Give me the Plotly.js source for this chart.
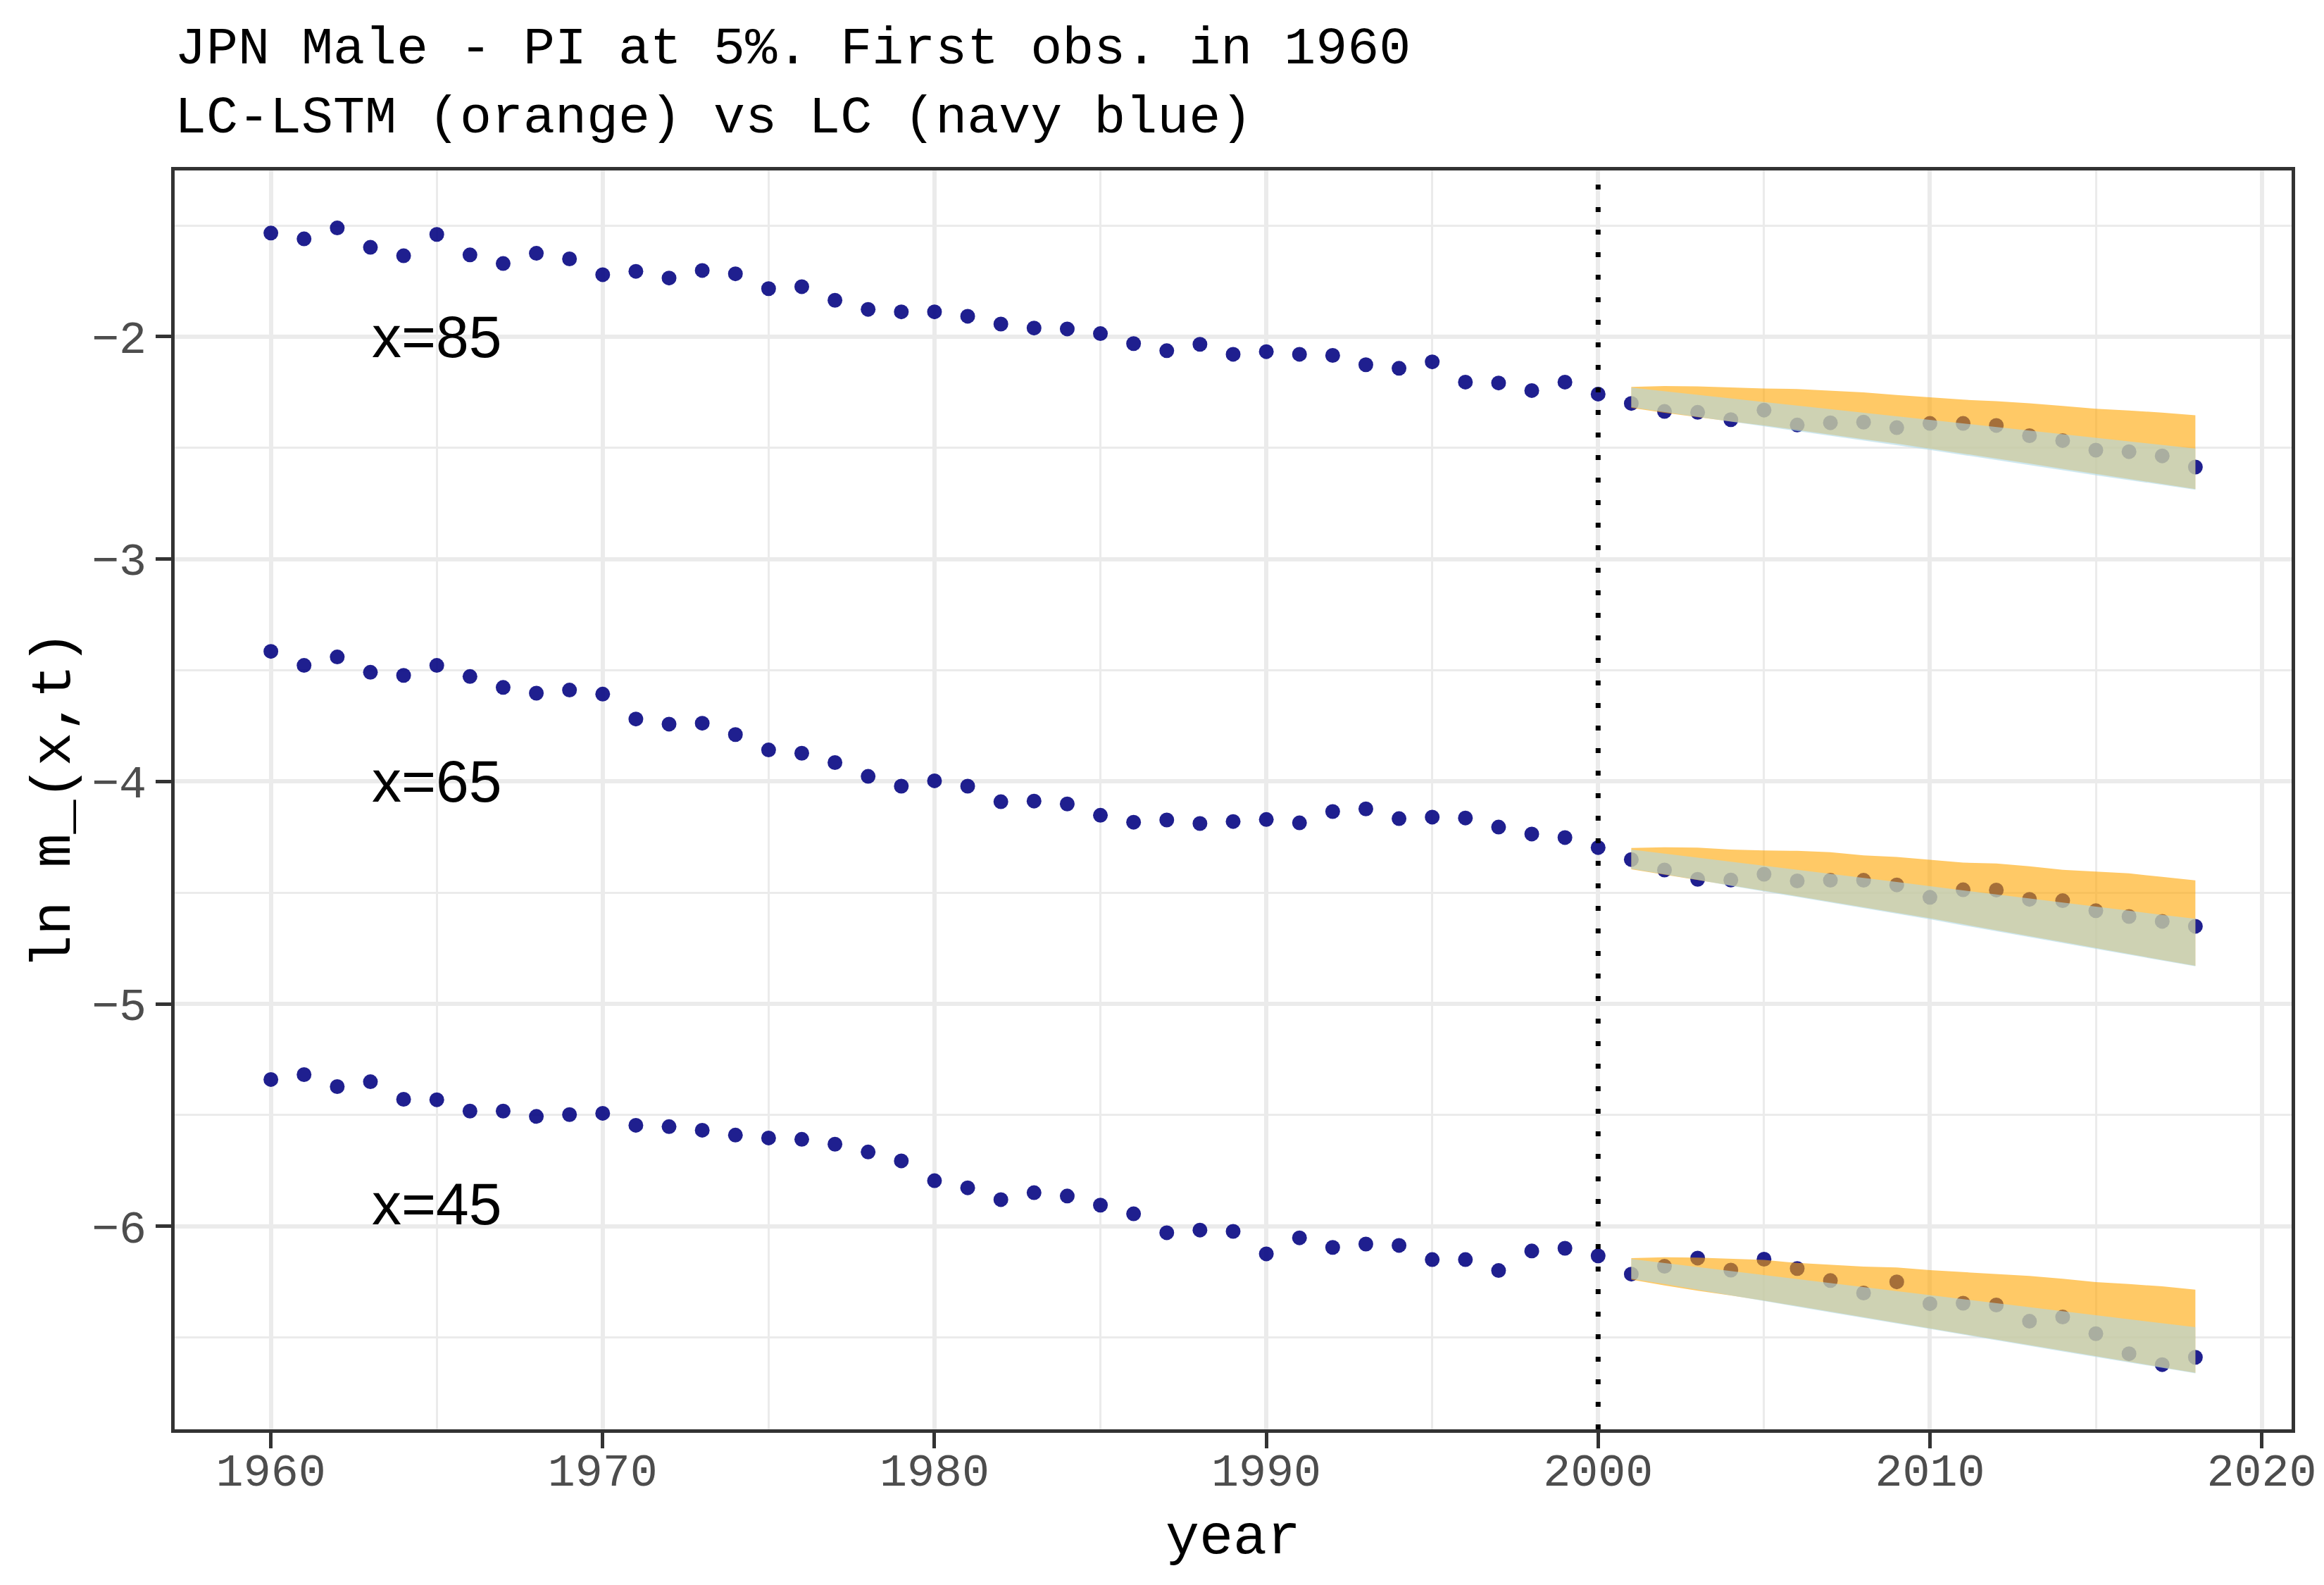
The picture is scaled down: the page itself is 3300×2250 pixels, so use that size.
<!DOCTYPE html>
<html>
<head>
<meta charset="utf-8">
<script src="https://cdn.plot.ly/plotly-3.0.1.min.js"></script>
<style>html,body{margin:0;padding:0;background:#fff;}</style>
</head>
<body>
<div id="chart" style="width:3300px;height:2250px;"></div>
<script>
// Observed years
const years = [1960,1961,1962,1963,1964,1965,1966,1967,1968,1969,1970,1971,1972,1973,1974,1975,1976,1977,1978,1979,
  1980,1981,1982,1983,1984,1985,1986,1987,1988,1989,1990,1991,1992,1993,1994,1995,1996,1997,1998,1999,
  2000,2001,2002,2003,2004,2005,2006,2007,2008,2009,2010,2011,2012,2013,2014,2015,2016,2017,2018];

// Observed ln m(x,t)
const obs85 = [-1.534,-1.560,-1.511,-1.598,-1.636,-1.540,-1.632,-1.671,-1.625,-1.650,-1.721,-1.706,-1.736,-1.702,-1.717,-1.784,-1.775,-1.836,-1.877,-1.888,
  -1.888,-1.908,-1.943,-1.961,-1.965,-1.986,-2.031,-2.063,-2.034,-2.079,-2.067,-2.079,-2.084,-2.126,-2.142,-2.113,-2.204,-2.208,-2.242,-2.204,
  -2.258,-2.300,-2.336,-2.340,-2.373,-2.330,-2.397,-2.387,-2.384,-2.409,-2.390,-2.390,-2.399,-2.445,-2.467,-2.510,-2.517,-2.536,-2.586];
const obs65 = [-3.415,-3.478,-3.440,-3.509,-3.523,-3.478,-3.528,-3.577,-3.603,-3.589,-3.607,-3.719,-3.742,-3.738,-3.789,-3.858,-3.873,-3.915,-3.977,-4.021,
  -3.997,-4.021,-4.091,-4.088,-4.101,-4.152,-4.183,-4.173,-4.189,-4.180,-4.171,-4.186,-4.135,-4.123,-4.167,-4.160,-4.164,-4.205,-4.236,-4.252,
  -4.297,-4.351,-4.398,-4.440,-4.443,-4.417,-4.447,-4.444,-4.444,-4.465,-4.521,-4.487,-4.488,-4.530,-4.536,-4.581,-4.607,-4.629,-4.651];
const obs45 = [-5.340,-5.318,-5.372,-5.350,-5.429,-5.431,-5.482,-5.482,-5.506,-5.498,-5.492,-5.546,-5.552,-5.568,-5.590,-5.603,-5.609,-5.631,-5.666,-5.706,
  -5.795,-5.827,-5.880,-5.849,-5.864,-5.905,-5.944,-6.029,-6.017,-6.023,-6.124,-6.052,-6.095,-6.080,-6.086,-6.150,-6.150,-6.199,-6.111,-6.099,
  -6.133,-6.215,-6.180,-6.143,-6.197,-6.148,-6.190,-6.244,-6.300,-6.250,-6.348,-6.346,-6.354,-6.427,-6.408,-6.483,-6.573,-6.622,-6.589];

// Forecast years and prediction intervals
const fyears = [2001,2002,2003,2004,2005,2006,2007,2008,2009,2010,2011,2012,2013,2014,2015,2016,2017,2018];

const lstmUp85 = [-2.226,-2.222,-2.223,-2.229,-2.233,-2.235,-2.243,-2.250,-2.262,-2.272,-2.283,-2.290,-2.299,-2.311,-2.324,-2.332,-2.341,-2.353];
const lstmLo85 = [-2.320,-2.342,-2.362,-2.381,-2.399,-2.420,-2.440,-2.461,-2.481,-2.502,-2.525,-2.548,-2.570,-2.594,-2.617,-2.640,-2.662,-2.685];
const lcUp85   = [-2.229,-2.245,-2.262,-2.278,-2.293,-2.310,-2.326,-2.342,-2.358,-2.375,-2.390,-2.406,-2.423,-2.439,-2.455,-2.470,-2.487,-2.503];
const lcLo85   = [-2.317,-2.339,-2.360,-2.382,-2.403,-2.425,-2.446,-2.467,-2.488,-2.509,-2.532,-2.555,-2.577,-2.600,-2.623,-2.645,-2.667,-2.688];

const lstmUp65 = [-4.299,-4.296,-4.297,-4.306,-4.310,-4.312,-4.318,-4.332,-4.339,-4.351,-4.365,-4.369,-4.381,-4.397,-4.405,-4.413,-4.429,-4.445];
const lstmLo65 = [-4.395,-4.420,-4.443,-4.467,-4.491,-4.516,-4.541,-4.566,-4.590,-4.615,-4.642,-4.669,-4.695,-4.722,-4.749,-4.775,-4.803,-4.829];
const lcUp65   = [-4.306,-4.324,-4.342,-4.360,-4.379,-4.397,-4.415,-4.434,-4.452,-4.471,-4.489,-4.507,-4.526,-4.544,-4.563,-4.581,-4.600,-4.617];
const lcLo65   = [-4.392,-4.417,-4.442,-4.469,-4.494,-4.520,-4.545,-4.570,-4.595,-4.620,-4.647,-4.674,-4.700,-4.727,-4.753,-4.779,-4.806,-4.831];

const lstmUp45 = [-6.143,-6.139,-6.141,-6.146,-6.151,-6.165,-6.173,-6.181,-6.185,-6.197,-6.206,-6.215,-6.223,-6.236,-6.251,-6.260,-6.270,-6.285];
const lstmLo45 = [-6.240,-6.266,-6.290,-6.311,-6.334,-6.359,-6.383,-6.407,-6.433,-6.457,-6.482,-6.507,-6.533,-6.558,-6.583,-6.609,-6.634,-6.659];
const lcUp45   = [-6.147,-6.165,-6.183,-6.201,-6.219,-6.238,-6.256,-6.274,-6.291,-6.309,-6.327,-6.345,-6.363,-6.381,-6.400,-6.418,-6.436,-6.454];
const lcLo45   = [-6.236,-6.260,-6.285,-6.310,-6.336,-6.362,-6.387,-6.411,-6.437,-6.462,-6.487,-6.512,-6.538,-6.563,-6.588,-6.613,-6.637,-6.661];

const ageLabels = ["x=85","x=65","x=45"];
const labelYear = [1965,1965,1965];
const labelVal = [-2,-4,-5.9];
const cutYear = 2000;

const MONO = "Liberation Mono, Courier New, monospace";
const SANS = "Liberation Sans, Arial, sans-serif";
const ORANGE = "rgba(255,165,0,0.6)";
const LBLUE = "rgba(173,216,230,0.6)";
const NAVY = "rgba(0,0,128,0.88)";

function pts(y){
  return {x: years, y: y, type: "scatter", mode: "markers",
    marker: {color: NAVY, size: 21, line: {width: 0}}, hoverinfo: "skip", showlegend: false};
}
function band(up, lo, col){
  return {x: fyears.concat(fyears.slice().reverse()),
    y: up.concat(lo.slice().reverse()),
    type: "scatter", mode: "lines", fill: "toself", fillcolor: col,
    line: {width: 0, color: col}, hoverinfo: "skip", showlegend: false};
}

const data = [
  pts(obs85), pts(obs65), pts(obs45),
  band(lstmUp85, lstmLo85, ORANGE), band(lstmUp65, lstmLo65, ORANGE), band(lstmUp45, lstmLo45, ORANGE),
  band(lcUp85, lcLo85, LBLUE), band(lcUp65, lcLo65, LBLUE), band(lcUp45, lcLo45, LBLUE)
];

const annotations = ageLabels.map((t,i)=>({
  x: labelYear[i], y: labelVal[i], xref: "x", yref: "y", text: t, showarrow: false,
  xanchor: "center", yanchor: "middle", font: {family: SANS, size: 84, color: "#000"}
}));

const layout = {
  width: 3300, height: 2250,
  paper_bgcolor: "#fff", plot_bgcolor: "#fff",
  margin: {l: 248, r: 46, t: 242, b: 221, pad: 0},
  font: {family: MONO, color: "#000"},
  title: {
    text: "JPN Male - PI at 5%. First obs. in 1960<br>LC-LSTM (orange) vs LC (navy blue)",
    font: {family: MONO, size: 75, color: "#000"},
    x: 0, xref: "paper", xanchor: "left",
    y: 0.960, yref: "container", yanchor: "top"
  },
  xaxis: {
    range: [1957.1, 2020.9], tick0: 1960, dtick: 10, tickmode: "linear",
    showgrid: true, gridcolor: "#EBEBEB", gridwidth: 6,
    minor: {dtick: 5, tick0: 1965, showgrid: true, gridcolor: "#EBEBEB", gridwidth: 3, ticks: ""},
    zeroline: false, showline: true, mirror: true, linecolor: "#333333", linewidth: 5,
    ticks: "outside", ticklen: 22, tickwidth: 5, tickcolor: "#333333",
    ticklabelstandoff: -25,
    tickfont: {family: MONO, size: 65, color: "#4D4D4D"},
    title: {text: "year", font: {family: MONO, size: 80, color: "#000"}, standoff: 22},
    automargin: false
  },
  yaxis: {
    range: [-6.913, -1.2525], tick0: -6, dtick: 1, tickmode: "linear",
    showgrid: true, gridcolor: "#EBEBEB", gridwidth: 6,
    minor: {dtick: 0.5, tick0: -6.5, showgrid: true, gridcolor: "#EBEBEB", gridwidth: 3, ticks: ""},
    zeroline: false, showline: true, mirror: true, linecolor: "#333333", linewidth: 5,
    ticks: "outside", ticklen: 22, tickwidth: 5, tickcolor: "#333333",
    tickfont: {family: MONO, size: 65, color: "#4D4D4D"},
    title: {text: "ln m_(x,t)", font: {family: MONO, size: 80, color: "#000"}, standoff: 5},
    automargin: false
  },
  shapes: [{
    type: "line", xref: "x", yref: "paper", x0: cutYear, x1: cutYear, y0: 0, y1: 1,
    line: {color: "#000", width: 7, dash: "7px,25px"}, layer: "above"
  }],
  annotations: annotations
};

Plotly.newPlot("chart", data, layout, {displayModeBar: false, staticPlot: true});
</script>
</body>
</html>
